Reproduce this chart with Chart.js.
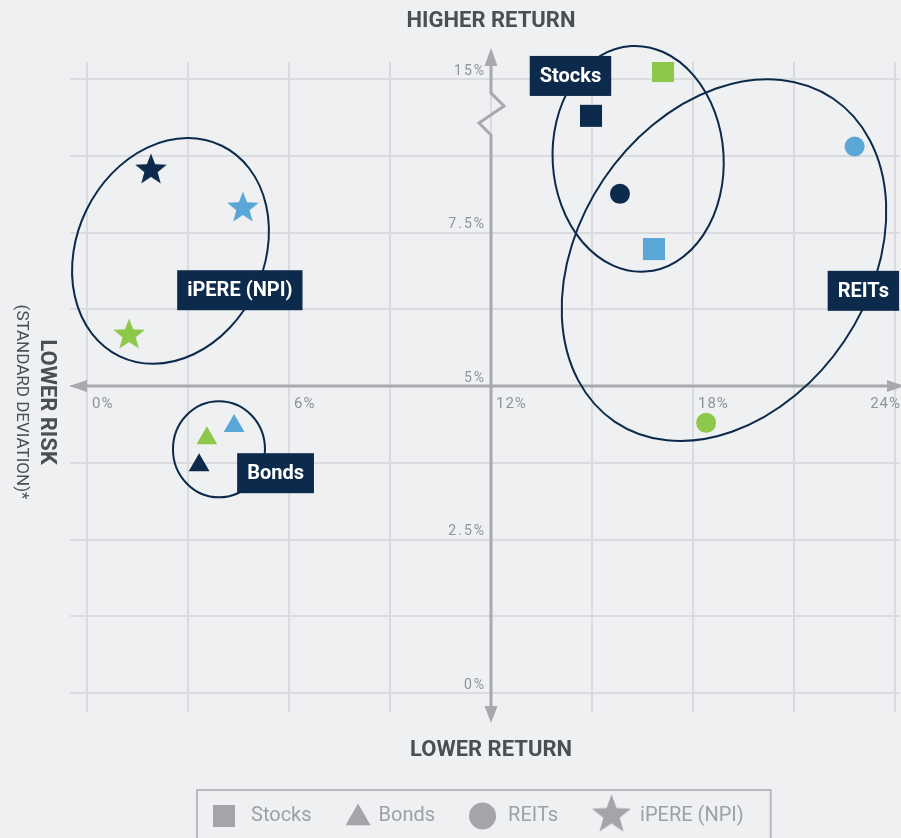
<!DOCTYPE html>
<html>
<head>
<meta charset="utf-8">
<script src="https://cdn.jsdelivr.net/npm/chart.js@4.4.1/dist/chart.umd.min.js"></script>
<style>
  html, body { margin: 0; padding: 0; background: #eff0f2; }
  #wrap { width: 901px; height: 838px; }
</style>
</head>
<body>
<div id="wrap"><canvas id="c" width="901" height="838"></canvas></div>
<script>
// ---- data (risk = standard deviation %, return %) ----
const assetClasses = ['Stocks', 'Bonds', 'REITs', 'iPERE (NPI)'];
// point order in each series: navy, light blue, green
const stocksRisk   = [14.97, 16.84, 17.11];
const stocksReturn = [9.40, 7.23, 10.13];
const bondsRisk    = [3.33, 4.37, 3.56];
const bondsReturn  = [3.71, 4.35, 4.15];
const reitsRisk    = [15.83, 22.80, 18.39];
const reitsReturn  = [8.13, 8.90, 4.40];
const ipereRisk    = [1.90, 4.63, 1.25];
const ipereReturn  = [8.52, 7.90, 5.83];

const xGridValues = [0, 3, 6, 9, 12, 15, 18, 21, 24];
const xTickValues = [0, 6, 12, 18, 24];
const xTickLabels = ['0%', '6%', '12%', '18%', '24%'];
const yGridValues = [0, 1.25, 2.5, 3.75, 5, 6.25, 7.5, 8.75, 10];
const yTickValues = [0, 2.5, 5, 7.5, 10];
const yTickLabels = ['0%', '2.5%', '5%', '7.5%', '15%'];

// ---- styles ----
const NAVY = '#0c2a4b', BLUE = '#5aa6d6', GREEN = '#8dc84b';
const pointColors = [NAVY, BLUE, GREEN];
const GRID = '#dadbde', AXIS = '#a7a9ac', TICK = '#8f9296', TITLE = '#4b4f55';
const LEG_GRAY = '#a3a5a8', LEG_TEXT = '#9ea1a4', LEG_BORDER = '#b9bbbe';
const FONT = 'Roboto, "Liberation Sans", sans-serif';

function starCanvas(color, R, inner) {
  const size = Math.ceil(R * 2) + 2;
  const c = document.createElement('canvas');
  c.width = c.height = size;
  const g = c.getContext('2d');
  g.fillStyle = color;
  g.beginPath();
  for (let i = 0; i < 10; i++) {
    const r = i % 2 === 0 ? R : R * inner;
    const a = -Math.PI / 2 + i * Math.PI / 5;
    g.lineTo(size / 2 + r * Math.cos(a), size / 2 + r * Math.sin(a));
  }
  g.closePath();
  g.fill();
  return c;
}
const dataStars = pointColors.map(c => starCanvas(c, 16.6, 0.42));
const legendStar = starCanvas(LEG_GRAY, 20.5, 0.42);

function pts(xs, ys) { return xs.map((x, i) => ({x, y: ys[i]})); }

const seriesStyles = [
  {pointStyle: 'rect', radius: 15.6},
  {pointStyle: 'triangle', radius: 12},
  {pointStyle: 'circle', radius: 10},
  {pointStyle: dataStars, radius: 16}
];
const seriesData = [
  pts(stocksRisk, stocksReturn),
  pts(bondsRisk, bondsReturn),
  pts(reitsRisk, reitsReturn),
  pts(ipereRisk, ipereReturn)
];

// group ellipses and labels (centre in data units, radii in px)
const groupEllipses = [
  {cx: 16.37, cy: 8.70, rx: 85.5, ry: 113, rot: -3.5},
  {cx: 3.92,  cy: 3.97, rx: 46,   ry: 48,  rot: 0},
  {cx: 18.92, cy: 7.05, rx: 145,  ry: 195, rot: 34},
  {cx: 2.48,  cy: 7.20, rx: 93.5, ry: 117, rot: 26}
];
const groupLabelAnchors = [
  {x: 14.36, y: 10.05},
  {x: 5.60,  y: 3.58},
  {x: 23.06, y: 6.55},
  {x: 4.54,  y: 6.56}
];

const overlay = {
  id: 'overlay',
  beforeDatasetsDraw(chart) {
    const ctx = chart.ctx, xs = chart.scales.x, ys = chart.scales.y, ca = chart.chartArea;
    const axY = ys.getPixelForValue(5);
    const axX = xs.getPixelForValue(12);
    ctx.save();
    ctx.strokeStyle = AXIS; ctx.fillStyle = AXIS; ctx.lineWidth = 3;
    // horizontal axis
    ctx.beginPath(); ctx.moveTo(ca.left + 12, axY); ctx.lineTo(ca.right - 6, axY); ctx.stroke();
    ctx.beginPath(); ctx.moveTo(ca.left - 1, axY); ctx.lineTo(ca.left + 17, axY - 6); ctx.lineTo(ca.left + 17, axY + 6); ctx.closePath(); ctx.fill();
    ctx.beginPath(); ctx.moveTo(ca.right + 5, axY); ctx.lineTo(ca.right - 13, axY - 6); ctx.lineTo(ca.right - 13, axY + 6); ctx.closePath(); ctx.fill();
    // vertical axis with break
    const top = ys.getPixelForValue(10);
    ctx.lineJoin = 'miter';
    ctx.beginPath();
    ctx.moveTo(axX, top - 20);
    ctx.lineTo(axX, top + 14);
    ctx.lineTo(axX + 13, top + 27);
    ctx.lineTo(axX - 12, top + 44);
    ctx.lineTo(axX, top + 56);
    ctx.lineTo(axX, ca.bottom - 4);
    ctx.stroke();
    ctx.beginPath(); ctx.moveTo(axX, top - 31); ctx.lineTo(axX - 6.5, top - 13); ctx.lineTo(axX + 6.5, top - 13); ctx.closePath(); ctx.fill();
    ctx.beginPath(); ctx.moveTo(axX, ca.bottom + 11); ctx.lineTo(axX - 6.5, ca.bottom - 6); ctx.lineTo(axX + 6.5, ca.bottom - 6); ctx.closePath(); ctx.fill();

    // tick labels
    ctx.fillStyle = TICK;
    ctx.textBaseline = 'middle';
    ctx.font = '15px ' + FONT;
    ctx.letterSpacing = '1px';
    ctx.textAlign = 'left';
    xTickValues.forEach((v, i) => {
      const w = ctx.measureText(xTickLabels[i]).width;
      let px = xs.getPixelForValue(v) + 5;
      if (px + w > chart.width) px = chart.width - w;
      ctx.fillText(xTickLabels[i], px, axY + 18);
    });
    ctx.font = '14px ' + FONT;
    ctx.letterSpacing = '2px';
    ctx.textAlign = 'right';
    yTickValues.forEach((v, i) => {
      ctx.fillText(yTickLabels[i], axX - 5, ys.getPixelForValue(v) - 8);
    });
    ctx.letterSpacing = '0px';

    // group ellipses
    ctx.strokeStyle = NAVY; ctx.lineWidth = 2;
    groupEllipses.forEach(e => {
      ctx.beginPath();
      ctx.ellipse(xs.getPixelForValue(e.cx), ys.getPixelForValue(e.cy), e.rx, e.ry, e.rot * Math.PI / 180, 0, Math.PI * 2);
      ctx.stroke();
    });
    ctx.restore();
  },
  afterDatasetsDraw(chart) {
    const ctx = chart.ctx, xs = chart.scales.x, ys = chart.scales.y;
    ctx.save();
    ctx.font = 'bold 20px ' + FONT;
    ctx.textAlign = 'center'; ctx.textBaseline = 'middle';
    groupLabelAnchors.forEach((a, i) => {
      const t = chart.data.datasets[i].label;
      const w = ctx.measureText(t).width + 20, h = 40;
      const cx = xs.getPixelForValue(a.x), cy = ys.getPixelForValue(a.y);
      ctx.fillStyle = NAVY;
      ctx.fillRect(cx - w / 2, cy - h / 2, w, h);
      ctx.fillStyle = '#ffffff';
      ctx.fillText(t, cx, cy + 1);
    });
    ctx.restore();
  },
  afterDraw(chart) {
    const ctx = chart.ctx, xs = chart.scales.x, ys = chart.scales.y;
    const axX = xs.getPixelForValue(12), axY = ys.getPixelForValue(5);
    ctx.save();
    ctx.fillStyle = TITLE;
    ctx.textAlign = 'center'; ctx.textBaseline = 'middle';
    ctx.font = 'bold 22px ' + FONT;
    ctx.fillText('HIGHER RETURN', axX, 21);
    ctx.fillText('LOWER RETURN', axX, 750);
    // rotated risk label
    ctx.save();
    ctx.translate(46, axY + 16);
    ctx.rotate(Math.PI / 2);
    ctx.font = 'bold 22px ' + FONT;
    ctx.fillText('LOWER RISK', 0, 0);
    ctx.font = '17px ' + FONT;
    ctx.fillText('(STANDARD DEVIATION)*', 0, 25);
    ctx.restore();

    // legend
    const legTop = 790, legLeft = 197, midY = 816;
    ctx.font = '20px ' + FONT;
    ctx.textAlign = 'left';
    let x = legLeft + 16;
    const markW = [22, 25, 27, 39];
    const markGap = [16, 8, 12, 9];
    chart.data.datasets.forEach((ds, i) => {
      const cx = x + markW[i] / 2;
      ctx.fillStyle = LEG_GRAY;
      if (i === 3) {
        ctx.drawImage(legendStar, cx - legendStar.width / 2, midY - 1 - legendStar.height / 2);
      } else {
        const r = i === 0 ? 15.6 : (i === 1 ? 14.4 : 13.5);
        const yy = i === 1 ? midY + 2 : midY;
        Chart.helpers.drawPoint(ctx, {pointStyle: ds.pointStyle, radius: r, rotation: 0, borderWidth: 0}, cx, yy);
      }
      x += markW[i] + markGap[i];
      ctx.fillStyle = LEG_TEXT;
      ctx.fillText(ds.label, x, midY);
      x += ctx.measureText(ds.label).width + 34;
    });
    const legRight = x - 34 + 27;
    ctx.strokeStyle = LEG_BORDER; ctx.lineWidth = 2;
    ctx.strokeRect(legLeft, legTop, legRight - legLeft, 60);
    ctx.restore();
  }
};

new Chart(document.getElementById('c').getContext('2d'), {
  type: 'scatter',
  data: {
    datasets: seriesData.map((d, i) => ({
      label: assetClasses[i],
      data: d,
      pointStyle: seriesStyles[i].pointStyle,
      pointRadius: seriesStyles[i].radius,
      backgroundColor: pointColors,
      borderWidth: 0,
      borderColor: 'rgba(0,0,0,0)'
    }))
  },
  options: {
    responsive: false,
    animation: false,
    events: [],
    layout: {autoPadding: false, padding: {left: 70, right: 1, top: 62, bottom: 126}},
    plugins: {legend: {display: false}, tooltip: {enabled: false}},
    scales: {
      x: {
        type: 'linear', min: -0.505, max: 24.148,
        afterBuildTicks: s => { s.ticks = xGridValues.map(v => ({value: v})); },
        grid: {color: GRID, lineWidth: 2, drawTicks: false},
        border: {display: false},
        ticks: {display: false}
      },
      y: {
        type: 'linear', min: -0.3094, max: 10.277,
        afterBuildTicks: s => { s.ticks = yGridValues.map(v => ({value: v})); },
        grid: {color: GRID, lineWidth: 2, drawTicks: false},
        border: {display: false},
        ticks: {display: false}
      }
    }
  },
  plugins: [overlay]
});
</script>
</body>
</html>
